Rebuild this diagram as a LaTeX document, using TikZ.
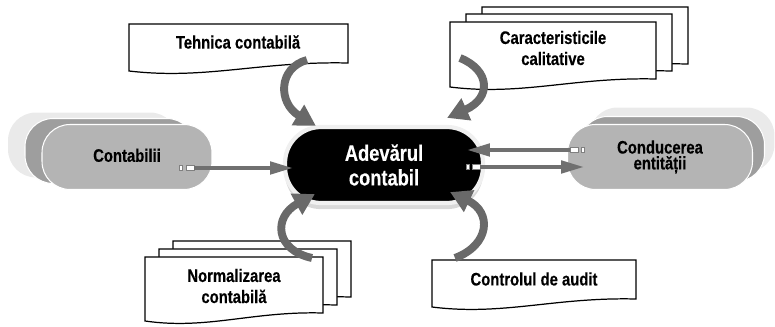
\documentclass[tikz,border=0pt]{standalone}
\usepackage{fontspec}
\setmainfont{Liberation Sans}[FakeStretch=0.82, BoldFeatures={FakeBold=0.3}]
\usetikzlibrary{arrows.meta, positioning, shadows}

\begin{document}
\begin{tikzpicture}[
    x=0.02cm, y=-0.02cm,
    lane/.style={rectangle, rounded corners=0.56cm, minimum width=3.4cm, minimum height=1.3cm, draw=white, line width=0.6pt, font=\bfseries\fontsize{10.3}{12}\selectfont, align=center},
    truth/.style={rectangle, rounded corners=0.72cm, fill=black, draw=gray!12, line width=2.4pt, minimum width=3.96cm, minimum height=1.52cm, text=white, align=center, font=\bfseries\fontsize{12.7}{14}\selectfont, drop shadow={shadow xshift=0pt, shadow yshift=-3.5pt, fill=gray!60}},
    doctext/.style={font=\bfseries\fontsize{10.3}{12}\selectfont, align=center},
    portS/.style={rectangle, draw=gray, fill=white, line width=0.5pt, inner sep=0pt, minimum width=0.06cm, minimum height=0.09cm},
    portL/.style={rectangle, draw=gray, fill=white, line width=0.5pt, inner sep=0pt, minimum width=0.16cm, minimum height=0.1cm},
    flow/.style={-{Triangle[length=13pt, width=7pt]}, line width=2.2pt, arrowgray},
    swirl/.style={-{Triangle[length=12pt, width=13pt]}, line width=4.5pt, curvegray},
    pics/docpage/.style 2 args={code={
        \draw[fill=white, line width=0.7pt] (0,0) -- (#1,0) -- (#1,#2-8)
            .. controls (0.6*#1,#2-10) and (0.35*#1,#2+9) .. (0,#2) -- cycle;
    }}
]

% Colors
\definecolor{backgray}{RGB}{234, 234, 234}
\definecolor{midgray}{RGB}{158, 158, 158}
\definecolor{frontgray}{RGB}{180, 180, 180}
\definecolor{arrowgray}{RGB}{112, 112, 112}
\definecolor{curvegray}{RGB}{105, 105, 105}

\useasboundingbox (0,0) rectangle (775,327);

% Contabilii
\node[lane, fill=backgray, draw=none] (contBack) at (93,145) {};
\node[lane, fill=midgray] (contMid) at (110,151) {};
\node[lane, fill=frontgray] (cont) at (127,157) {\raisebox{2pt}{Contabilii}};

% Conducerea entitatii
\node[lane, fill=backgray, draw=none, minimum width=3.7cm] (condBack) at (682,140) {};
\node[lane, fill=midgray, minimum width=3.7cm] (condMid) at (672,149) {};
\node[lane, fill=frontgray, minimum width=3.7cm] (cond) at (660,157) {Conducerea\\[-3pt]entității};

% Adevarul contabil
\node[truth] (adevar) at (384,165) {Adevărul\\contabil};

% Documents
\pic at (129,24) {docpage={219}{47}};
\node[doctext] (tehnica) at (238,42) {Tehnica contabilă};

\pic at (482,7) {docpage={206}{65}};
\pic at (466,14) {docpage={206}{65}};
\pic at (450,22) {docpage={206}{65}};
\node[doctext] (calit) at (553,48) {Caracteristicile\\calitative};

\pic at (173,241) {docpage={178}{64}};
\pic at (159,249) {docpage={178}{64}};
\pic at (145,257) {docpage={178}{64}};
\node[doctext] (norm) at (234,286) {Normalizarea\\contabilă};

\pic at (432,260) {docpage={204}{47}};
\node[doctext] (audit) at (534,279) {Controlul de audit};

% Ports
\node[portS] (contPa) at (181,168) {};
\node[portL] (contPb) at (190,168) {};
\node[portL] (condPb) at (574,150) {};
\node[portS] (condPa) at (583,150) {};
\node[portS] (adevPa) at (468,167) {};
\node[portL] (adevPb) at (476,167) {};

% Straight arrows
\draw[flow, shorten >=-0.2cm] (contPb.east) -- (contPb.east -| adevar.west);
\draw[flow, shorten >=-0.36cm] (condPb.west) -- (condPb.west -| adevar.east);
\draw[flow, shorten >=-0.34cm] (adevPb.east) -- (adevPb.east -| cond.west);

% Curved arrows
\coordinate (tehOut) at (307,60);
\coordinate (calitOut) at (460,58);
\coordinate (normOut) at (312,258);
\coordinate (auditOut) at (455,258);
\draw[swirl] (tehOut) .. controls +(-29,8) and +(-38,-23) .. ([shift={(33,1)}]adevar.north west);
\draw[swirl] (calitOut) .. controls +(30,12) and +(45,-20) .. ([shift={(-38,-7)}]adevar.north east);
\draw[swirl] (normOut) .. controls +(-37,-8) and +(-42,23) .. ([shift={(32,-11)}]adevar.south west);
\draw[swirl] (auditOut) .. controls +(35,-13) and +(42,20) .. ([shift={(-35,-13)}]adevar.south east);

\end{tikzpicture}
\end{document}
